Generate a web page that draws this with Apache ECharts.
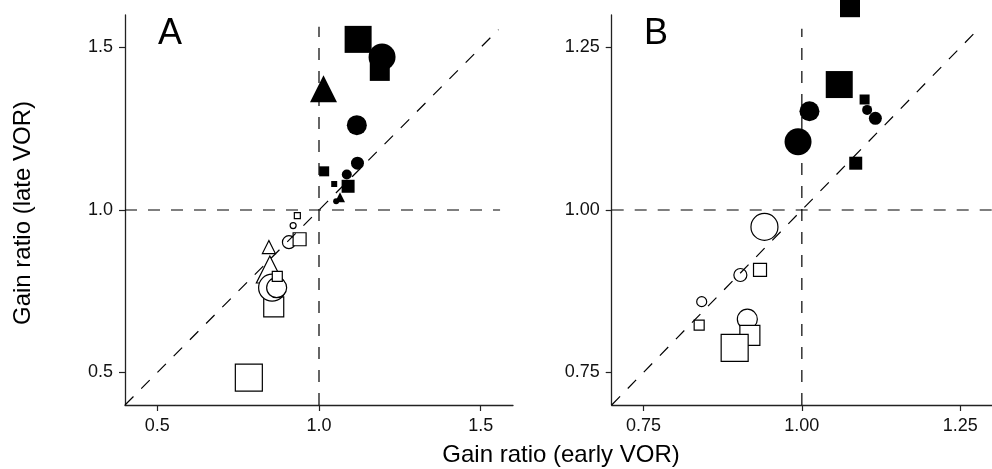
<!DOCTYPE html>
<html>
<head>
<meta charset="utf-8">
<script src="https://cdn.jsdelivr.net/npm/echarts@6/dist/echarts.min.js"></script>
<style>html,body{margin:0;padding:0;background:#fff}#c{width:992px;height:469px}</style>
</head>
<body>
<div id="c"></div>
<script>
// ---- data: [early gain ratio, late gain ratio, marker shape, size class] ----
const aFilled = [
  [1.121, 1.525, 'rect', 5],
  [1.188, 1.428, 'rect', 4],
  [1.195, 1.471, 'circle', 5],
  [1.014, 1.373, 'triangle', 5],
  [1.117, 1.261, 'circle', 4],
  [1.119, 1.144, 'circle', 3],
  [1.086, 1.109, 'circle', 2],
  [1.016, 1.119, 'rect', 2],
  [1.047, 1.080, 'rect', 1],
  [1.090, 1.073, 'rect', 3],
  [1.065, 1.039, 'triangle', 2],
  [1.053, 1.027, 'circle', 1]
];
const aOpen = [
  [0.783, 0.484, 'rect', 5],
  [0.860, 0.702, 'rect', 4],
  [0.845, 0.886, 'triangle', 3],
  [0.848, 0.817, 'triangle', 5],
  [0.855, 0.761, 'circle', 5],
  [0.869, 0.761, 'circle', 4],
  [0.871, 0.796, 'rect', 2],
  [0.933, 0.983, 'rect', 1],
  [0.920, 0.952, 'circle', 1],
  [0.907, 0.901, 'circle', 3],
  [0.940, 0.910, 'rect', 3]
];
const bFilled = [
  [1.076, 1.312, 'rect', 4],
  [1.059, 1.193, 'rect', 5],
  [1.099, 1.170, 'rect', 2],
  [1.103, 1.154, 'circle', 2],
  [1.116, 1.141, 'circle', 3],
  [1.012, 1.152, 'circle', 4],
  [0.994, 1.105, 'circle', 5],
  [1.085, 1.072, 'rect', 3]
];
const bOpen = [
  [0.941, 0.974, 'circle', 5],
  [0.934, 0.908, 'rect', 3],
  [0.903, 0.900, 'circle', 3],
  [0.842, 0.859, 'circle', 2],
  [0.838, 0.823, 'rect', 2],
  [0.914, 0.832, 'circle', 4],
  [0.918, 0.807, 'rect', 4],
  [0.894, 0.788, 'rect', 5]
];
// axis ranges and tick labels
const aRange = [0.4, 1.6];
const bRange = [0.7, 1.3];
const aTicks = [0.5, 1.0, 1.5];
const bTicks = [0.75, 1.00, 1.25];
// reference lines: unity value and extents of dashed lines
const unity = 1.0;
const aLineEnd = { h: 1.56, v: 1.564, d: 1.555 };
const bLineEnd = { h: 1.30, v: 1.279, d: 1.28 };

const sizePx = { 1: 6, 2: 10, 3: 13, 4: 20, 5: 27 };
const FONT = '"Liberation Sans", Arial, Helvetica, sans-serif';
const INK = '#111';

function axis(idx, range, ticks, digits) {
  return {
    type: 'value', gridIndex: idx, min: range[0], max: range[1],
    axisLine: { show: true, onZero: false, lineStyle: { color: '#222', width: 1.3 } },
    axisTick: { show: true, inside: false, length: 6, customValues: ticks, lineStyle: { color: '#222', width: 1.2 } },
    axisLabel: { customValues: ticks, margin: 12, color: INK, fontSize: 18, fontFamily: FONT,
      formatter: v => Number(v).toFixed(digits) },
    splitLine: { show: false }
  };
}
function scatter(idx, data, filled) {
  return {
    type: 'scatter', xAxisIndex: idx, yAxisIndex: idx, data: data, clip: false, z: 2,
    symbol: v => v[2],
    symbolSize: v => sizePx[v[3]],
    itemStyle: filled ? { color: '#000', borderColor: '#000', borderWidth: 0, opacity: 1 }
                      : { color: '#fff', borderColor: '#000', borderWidth: 1.2, opacity: 1 },
    emphasis: { disabled: true }, silent: true
  };
}
function refLine(idx, pts) {
  return {
    type: 'line', xAxisIndex: idx, yAxisIndex: idx, data: pts, symbol: 'none', z: 5, silent: true,
    clip: false, animation: false,
    lineStyle: { color: '#000', width: 1.2, type: [12, 11] }
  };
}
function refLines(idx, range, end) {
  return [
    refLine(idx, [[range[0], unity], [end.h, unity]]),
    refLine(idx, [[unity, range[0]], [unity, end.v]]),
    refLine(idx, [[range[0], range[0]], [end.d, end.d]])
  ];
}

const chart = echarts.init(document.getElementById('c'), null, { renderer: 'canvas' });
chart.setOption({
  animation: false,
  backgroundColor: '#fff',
  grid: [
    { left: 125, top: 15, width: 388, height: 390 },
    { left: 611.7, top: 15, width: 388, height: 390 }
  ],
  xAxis: [axis(0, aRange, aTicks, 1), axis(1, bRange, bTicks, 2)],
  yAxis: [axis(0, aRange, aTicks, 1), axis(1, bRange, bTicks, 2)],
  series: [
    scatter(0, aOpen, false), scatter(0, aFilled, true),
    scatter(1, bOpen, false), scatter(1, bFilled, true),
    ...refLines(0, aRange, aLineEnd),
    ...refLines(1, bRange, bLineEnd)
  ],
  graphic: [
    { type: 'text', left: 158, top: 16, style: { text: 'A', font: '36px ' + FONT, fill: '#000' } },
    { type: 'text', left: 644, top: 16, style: { text: 'B', font: '36px ' + FONT, fill: '#000' } },
    { type: 'text', x: 561, y: 455, style: { text: 'Gain ratio (early VOR)', font: '24px ' + FONT, fill: '#000', align: 'center', verticalAlign: 'middle' } },
    { type: 'text', x: 23.5, y: 213, rotation: Math.PI / 2, style: { text: 'Gain ratio (late VOR)', font: '24px ' + FONT, fill: '#000', align: 'center', verticalAlign: 'middle' } }
  ]
});
</script>
</body>
</html>
